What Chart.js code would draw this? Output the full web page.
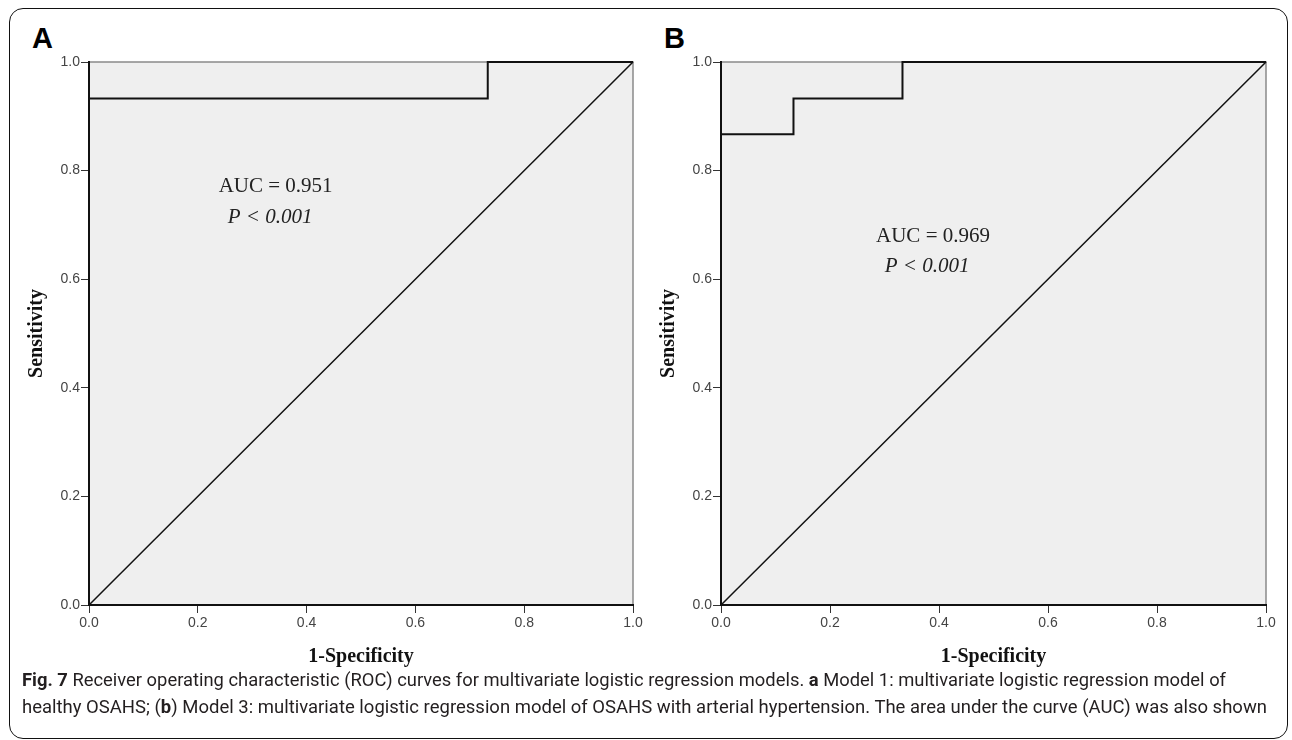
<!DOCTYPE html>
<html>
<head>
<meta charset="utf-8">
<script src="https://cdn.jsdelivr.net/npm/chart.js@4.4.0/dist/chart.umd.min.js"></script>
<style>
  html, body { margin:0; padding:0; background:#fff; }
  body { width:1292px; height:740px; position:relative; overflow:hidden; }
  #frame { position:absolute; left:9px; top:8px; width:1279px; height:731px; border:1.5px solid #111; border-radius:14px; box-sizing:border-box; }
  canvas { position:absolute; top:0; }
  .plabel { position:absolute; font-family:'Liberation Sans', Arial, sans-serif; font-weight:bold; font-size:29px; color:#000; line-height:1; }
  .cap { position:absolute; left:22px; white-space:nowrap; font-family:'Liberation Sans Narrow','Roboto','Liberation Sans',sans-serif; font-size:18px; color:#231f20; transform-origin:0 50%; line-height:1; }
</style>
</head>
<body>
<div id="frame"></div>
<div class="plabel" style="left:32px; top:24px;">A</div>
<div class="plabel" style="left:664px; top:24px;">B</div>
<canvas id="cA" width="646" height="680" style="left:0px;"></canvas>
<canvas id="cB" width="660" height="680" style="left:632px;"></canvas>
<div class="cap" id="cap1" style="top:671px;"><b>Fig. 7</b> Receiver operating characteristic (ROC) curves for multivariate logistic regression models. <b>a</b> Model 1: multivariate logistic regression model of</div>
<div class="cap" id="cap2" style="top:698px;">healthy OSAHS; (<b>b</b>) Model 3: multivariate logistic regression model of OSAHS with arterial hypertension. The area under the curve (AUC) was also shown</div>
<script>
// ---- data ----
const tickValues = [0, 0.2, 0.4, 0.6, 0.8, 1.0];
const refLineX = [0, 1];
const refLineY = [0, 1];
const rocA_fpr = [0, 0, 0.733, 0.733, 1];
const rocA_tpr = [0, 0.933, 0.933, 1, 1];
const rocB_fpr = [0, 0, 0.133, 0.133, 0.333, 0.333, 1];
const rocB_tpr = [0, 0.867, 0.867, 0.933, 0.933, 1, 1];
const aucTextA = ['AUC = 0.951', 'P < 0.001'];
const aucTextB = ['AUC = 0.969', 'P < 0.001'];
const xTitle = '1-Specificity';
const yTitle = 'Sensitivity';

function pts(xs, ys) { return xs.map((x, i) => ({x: x, y: ys[i]})); }

const bgPlugin = {
  id: 'bgframe',
  beforeDraw(chart) {
    const {ctx, chartArea: a} = chart;
    ctx.save();
    ctx.fillStyle = '#efefef';
    ctx.fillRect(a.left, a.top, a.right - a.left, a.bottom - a.top);
    ctx.strokeStyle = '#8a8a8a';
    ctx.lineWidth = 1.5;
    ctx.beginPath();
    ctx.moveTo(a.left, a.top);
    ctx.lineTo(a.right, a.top);
    ctx.lineTo(a.right, a.bottom);
    ctx.stroke();
    ctx.restore();
  }
};

function annotPlugin(lines, pos) {
  return {
    id: 'annot',
    afterDatasetsDraw(chart) {
      const {ctx, chartArea: a} = chart;
      const w = a.right - a.left, h = a.bottom - a.top;
      ctx.save();
      ctx.fillStyle = '#222';
      ctx.textAlign = 'center';
      ctx.textBaseline = 'middle';
      ctx.font = '21px "Liberation Serif", "Times New Roman", serif';
      ctx.fillText(lines[0], a.left + pos[0] * w, a.top + pos[1] * h);
      ctx.font = 'italic 21px "Liberation Serif", "Times New Roman", serif';
      ctx.fillText(lines[1], a.left + pos[2] * w, a.top + pos[3] * h);
      ctx.restore();
    }
  };
}

function makeChart(id, roc, padRight, lines, pos) {
  const tickFont = {family: '"Liberation Sans", Arial, sans-serif', size: 14};
  const titleFont = {family: '"Liberation Serif", "Times New Roman", serif', size: 20, weight: 'bold'};
  return new Chart(document.getElementById(id), {
    type: 'scatter',
    data: {
      datasets: [
        {data: pts(refLineX, refLineY), showLine: true, borderColor: '#111', borderWidth: 1.5, pointRadius: 0, clip: false},
        {data: roc, showLine: true, borderColor: '#111', borderWidth: 2, pointRadius: 0, clip: false}
      ]
    },
    options: {
      responsive: false,
      animation: false,
      devicePixelRatio: 1,
      layout: {padding: {left: 0, top: 62, right: padRight, bottom: 0}},
      plugins: {legend: {display: false}, tooltip: {enabled: false}},
      scales: {
        x: {
          type: 'linear', min: 0, max: 1,
          afterFit(s) { s.height = 75; },
          afterBuildTicks(s) { s.ticks = tickValues.map(v => ({value: v})); },
          ticks: {callback: v => v.toFixed(1), font: tickFont, color: '#444', padding: 2, maxRotation: 0},
          grid: {drawOnChartArea: false, drawTicks: true, tickLength: 8, color: '#333', lineWidth: 1},
          border: {display: true, color: '#111', width: 2},
          title: {display: true, text: xTitle, font: titleFont, color: '#111', padding: {top: 0, bottom: 11}}
        },
        y: {
          type: 'linear', min: 0, max: 1,
          afterFit(s) { s.width = 89; },
          afterBuildTicks(s) { s.ticks = tickValues.map(v => ({value: v})); },
          ticks: {callback: v => v.toFixed(1), font: tickFont, color: '#444', padding: 1},
          grid: {drawOnChartArea: false, drawTicks: true, tickLength: 8, color: '#333', lineWidth: 1},
          border: {display: true, color: '#111', width: 2},
          title: {display: true, text: yTitle, font: titleFont, color: '#111', padding: {top: 25, bottom: 0}}
        }
      }
    },
    plugins: [bgPlugin, annotPlugin(lines, pos)]
  });
}

makeChart('cA', pts(rocA_fpr, rocA_tpr), 13, aucTextA, [0.343, 0.230, 0.333, 0.287]);
makeChart('cB', pts(rocB_fpr, rocB_tpr), 26, aucTextB, [0.389, 0.322, 0.378, 0.376]);

// fit caption lines to the reference widths
function fitLine(id, target) {
  const el = document.getElementById(id);
  const w = el.getBoundingClientRect().width;
  if (w > 0) el.style.transform = 'scaleX(' + (target / w) + ')';
}
fitLine('cap1', 1226 - 22);
fitLine('cap2', 1267 - 22);
</script>
</body>
</html>
